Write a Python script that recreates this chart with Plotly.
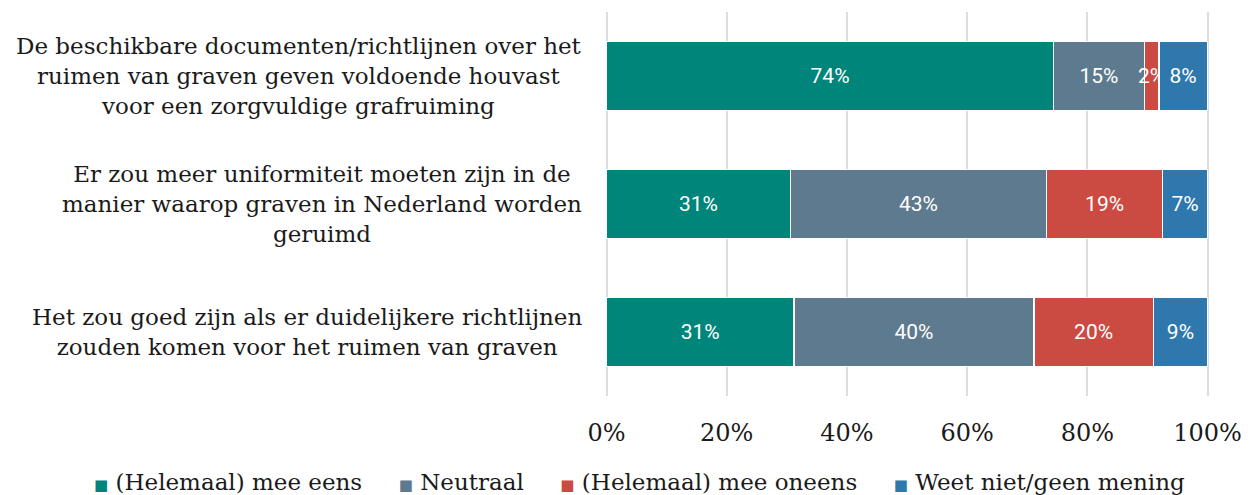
import plotly.graph_objects as go

statements = [
    "De beschikbare documenten/richtlijnen over het<br>ruimen van graven geven voldoende houvast<br>voor een zorgvuldige grafruiming",
    "Er zou meer uniformiteit moeten zijn in de<br>manier waarop graven in Nederland worden<br>geruimd",
    "Het zou goed zijn als er duidelijkere richtlijnen<br>zouden komen voor het ruimen van graven",
]
series_names = ["(Helemaal) mee eens", "Neutraal", "(Helemaal) mee oneens", "Weet niet/geen mening"]
eens = [74.4, 30.6, 31.2]
neutraal = [15.1, 42.6, 39.9]
oneens = [2.4, 19.35, 19.9]
weet_niet = [8.1, 7.45, 9.0]
colors = ["#00857a", "#5e7a8e", "#cb4b43", "#2f78ae"]
tick_vals = [0, 20, 40, 60, 80, 100]
tick_text = ["0%", "20%", "40%", "60%", "80%", "100%"]

SERIF = "DejaVu Serif"
cats = ["s1", "s2", "s3"]
fig = go.Figure()
for name, vals, col in zip(series_names, [eens, neutraal, oneens, weet_niet], colors):
    fig.add_trace(go.Bar(
        y=cats, x=vals, name=name, orientation="h",
        marker=dict(color=col, line=dict(color="white", width=1.5)),
        text=[f"{round(v)}%" for v in vals],
        textposition="inside", insidetextanchor="middle",
        constraintext="none", textangle=0,
        textfont=dict(family="Roboto", size=21, color="white"),
        hoverinfo="skip",
    ))

for c, s in zip(cats, statements):
    fig.add_annotation(
        x=-0.034, xref="paper", y=c, yref="y", xanchor="right", yanchor="middle",
        text=s, showarrow=False, align="center",
        font=dict(family=SERIF, size=23, color="#1a1a1a"),
    )

# legend drawn as one text line (markers are coloured square glyphs)
gap = "&nbsp;" * 5
legend_parts = [
    f'<span style="color:{col};font-size:15px">■</span>&nbsp;{name}'
    for name, col in zip(series_names, colors)
]
fig.add_annotation(
    x=0.0565, xref="paper", y=-0.224, yref="paper", xanchor="center", yanchor="middle",
    text=gap.join(legend_parts), showarrow=False,
    font=dict(family=SERIF, size=23, color="#1a1a1a"),
)

fig.update_layout(
    barmode="stack",
    bargap=0.46,
    width=1256, height=495,
    margin=dict(l=605, r=47, t=12, b=99),
    paper_bgcolor="white", plot_bgcolor="white",
    showlegend=False,
    xaxis=dict(
        range=[-0.25, 100.25], tickvals=tick_vals, ticktext=tick_text,
        showgrid=True, gridcolor="#dcdcdc", gridwidth=2,
        zeroline=True, zerolinecolor="#dcdcdc", zerolinewidth=2,
        showline=False, ticks="", ticklen=0,
        ticklabelstandoff=20,
        tickfont=dict(family=SERIF, size=24, color="#1a1a1a"),
        fixedrange=True,
    ),
    yaxis=dict(
        categoryorder="array", categoryarray=cats[::-1],
        showticklabels=False, showgrid=False, zeroline=False,
        range=[-0.5, 2.5], fixedrange=True,
    ),
)
fig.write_html("out.html", config={"displayModeBar": False},
               post_script="document.body.style.margin='0px';")
